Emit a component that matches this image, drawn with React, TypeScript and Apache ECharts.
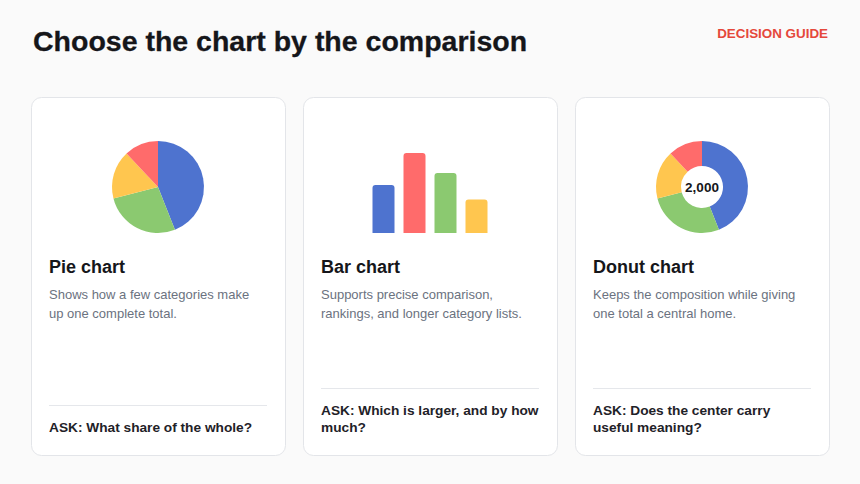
import React, { useEffect, useRef } from "react";
import * as echarts from "echarts";

// slice shares used by the pie and the donut (blue, green, yellow, red)
const SLICE_NAMES = ["A", "B", "C", "D"];
const SLICE_VALUES = [880, 540, 340, 240];
const SLICE_COLORS = ["#4E73CF", "#8BC970", "#FFC64F", "#FF6B6B"];

// bar card
const BAR_CATEGORIES = ["A", "B", "C", "D"];
const BAR_VALUES = [60, 100, 75, 42];
const BAR_COLORS = ["#4E73CF", "#FF6B6B", "#8BC970", "#FFC64F"];

const CARD_TITLES = ["Pie chart", "Bar chart", "Donut chart"];
const CARD_TEXT = [
    ["Shows how a few categories make", "up one complete total."],
    ["Supports precise comparison,", "rankings, and longer category lists."],
    ["Keeps the composition while giving", "one total a central home."],
];
const CARD_ASK = [
    ["ASK: What share of the whole?"],
    ["ASK: Which is larger, and by how", "much?"],
    ["ASK: Does the center carry", "useful meaning?"],
];

const FONT = "'Liberation Sans', Arial, sans-serif";
const CARD_X = [31, 303, 575];
const CARD_W = 254;

export default function App() {
    const ref = useRef<HTMLDivElement | null>(null);

    useEffect(() => {
        if (!ref.current) return;
        const chart = echarts.init(ref.current, null, { renderer: "svg" });

        const total = SLICE_VALUES.reduce((a, b) => a + b, 0);
        const sliceData = SLICE_VALUES.map((v, i) => ({
            name: SLICE_NAMES[i],
            value: v,
            itemStyle: { color: SLICE_COLORS[i] },
        }));

        const graphic: any[] = [
            {
                type: "text",
                x: 33,
                y: 41,
                style: {
                    text: "Choose the chart by the comparison",
                    fontSize: 28.5,
                    fontWeight: "bold",
                    fontFamily: FONT,
                    fill: "#15161a",
                    stroke: "#15161a",
                    lineWidth: 0.3,
                    verticalAlign: "middle",
                },
            },
            {
                type: "text",
                x: 828,
                y: 33.5,
                style: {
                    text: "DECISION GUIDE",
                    fontSize: 13.4,
                    fontWeight: "bold",
                    fontFamily: FONT,
                    fill: "#E5483B",
                    align: "right",
                    verticalAlign: "middle",
                },
            },
            {
                type: "text",
                x: 702,
                y: 187,
                z: 10,
                style: {
                    text: total.toLocaleString("en-US"),
                    fontSize: 13.5,
                    fontWeight: "bold",
                    fontFamily: FONT,
                    fill: "#15161a",
                    align: "center",
                    verticalAlign: "middle",
                },
            },
        ];

        CARD_X.forEach((cx, i) => {
            const tx = cx + 18;
            graphic.push({
                type: "rect",
                z: -1,
                shape: { x: cx + 0.5, y: 97.5, width: CARD_W, height: 358, r: 10 },
                style: { fill: "#ffffff", stroke: "#e3e5e9", lineWidth: 1 },
            });
            graphic.push({
                type: "text",
                x: tx,
                y: 267,
                style: {
                    text: CARD_TITLES[i],
                    fontSize: 18,
                    fontWeight: "bold",
                    fontFamily: FONT,
                    fill: "#15161a",
                    verticalAlign: "middle",
                },
            });
            CARD_TEXT[i].forEach((line, j) => {
                graphic.push({
                    type: "text",
                    x: tx,
                    y: 294.5 + j * 19,
                    style: {
                        text: line,
                        fontSize: 13,
                        fontFamily: FONT,
                        fill: "#6b7280",
                        verticalAlign: "middle",
                    },
                });
            });
            const ask = CARD_ASK[i];
            const divY = ask.length > 1 ? 388.5 : 405.5;
            graphic.push({
                type: "line",
                shape: { x1: tx, y1: divY, x2: cx + CARD_W - 18, y2: divY },
                style: { stroke: "#e5e7eb", lineWidth: 1 },
            });
            ask.forEach((line, j) => {
                graphic.push({
                    type: "text",
                    x: tx,
                    y: 427.5 - (ask.length - 1 - j) * 17,
                    style: {
                        text: line,
                        fontSize: 13.7,
                        fontWeight: "bold",
                        fontFamily: FONT,
                        fill: "#1f2228",
                        verticalAlign: "middle",
                    },
                });
            });
        });

        const option: echarts.EChartsOption = {
            animation: false,
            backgroundColor: "#fafafa",
            grid: { left: 368, width: 124, top: 153, bottom: 251 },
            xAxis: { type: "category", data: BAR_CATEGORIES, show: false },
            yAxis: { type: "value", min: 0, max: 100, show: false },
            graphic,
            series: [
                {
                    type: "pie",
                    center: [158, 187],
                    radius: 46,
                    startAngle: 90,
                    silent: true,
                    label: { show: false },
                    labelLine: { show: false },
                    data: sliceData,
                },
                {
                    type: "bar",
                    barWidth: 22,
                    silent: true,
                    data: BAR_VALUES.map((v, i) => ({
                        value: v,
                        itemStyle: { color: BAR_COLORS[i], borderRadius: [3, 3, 0, 0] },
                    })),
                },
                {
                    type: "pie",
                    center: [702, 187],
                    radius: [21, 46],
                    startAngle: 90,
                    silent: true,
                    label: { show: false },
                    labelLine: { show: false },
                    data: sliceData,
                },
            ],
        };

        chart.setOption(option);
        return () => {
            chart.dispose();
        };
    }, []);

    return (
        <div
            ref={ref}
            style={{ position: "fixed", left: 0, top: 0, width: 860, height: 484 }}
        />
    );
}
